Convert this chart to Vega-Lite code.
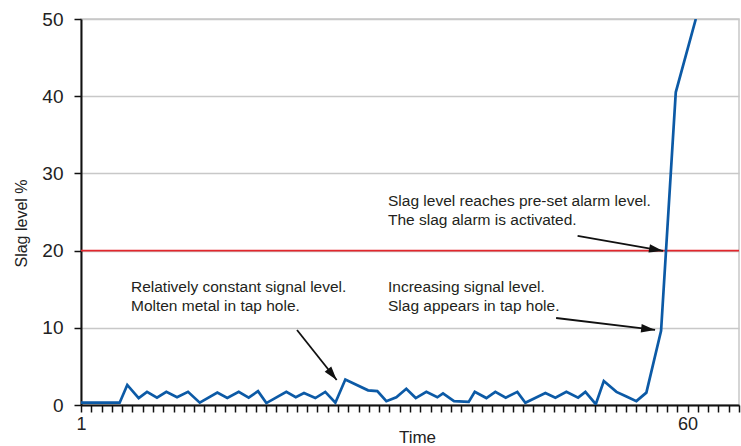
{
  "$schema": "https://vega.github.io/schema/vega-lite/v6.json",
  "width": 658,
  "height": 386,
  "autosize": "none",
  "padding": {"left": 81, "top": 19, "right": 2, "bottom": 41},
  "background": "white",
  "config": {
    "view": {"stroke": "#c8c8c8", "strokeWidth": 1.5},
    "font": "Liberation Sans"
  },
  "datasets": {
    "series": [
      {"t": 1.00, "v": 0.3}, {"t": 4.76, "v": 0.3}, {"t": 5.50, "v": 2.6}, {"t": 6.61, "v": 0.9},
      {"t": 7.42, "v": 1.7}, {"t": 8.39, "v": 0.95}, {"t": 9.30, "v": 1.7}, {"t": 10.34, "v": 1.0},
      {"t": 11.41, "v": 1.7}, {"t": 12.55, "v": 0.3}, {"t": 14.26, "v": 1.6}, {"t": 15.23, "v": 0.9},
      {"t": 16.34, "v": 1.7}, {"t": 17.31, "v": 0.95}, {"t": 18.22, "v": 1.8}, {"t": 19.03, "v": 0.25},
      {"t": 20.97, "v": 1.7}, {"t": 21.89, "v": 1.0}, {"t": 22.69, "v": 1.55}, {"t": 23.79, "v": 0.9},
      {"t": 24.76, "v": 1.7}, {"t": 25.74, "v": 0.3}, {"t": 26.71, "v": 3.3}, {"t": 28.92, "v": 1.9},
      {"t": 29.82, "v": 1.8}, {"t": 30.70, "v": 0.5}, {"t": 31.67, "v": 1.0}, {"t": 32.64, "v": 2.1},
      {"t": 33.56, "v": 0.9}, {"t": 34.59, "v": 1.7}, {"t": 35.66, "v": 1.0}, {"t": 36.21, "v": 1.5},
      {"t": 37.28, "v": 0.5}, {"t": 38.71, "v": 0.4}, {"t": 39.30, "v": 1.7}, {"t": 40.43, "v": 0.9},
      {"t": 41.30, "v": 1.7}, {"t": 42.31, "v": 0.95}, {"t": 43.44, "v": 1.7}, {"t": 44.22, "v": 0.3},
      {"t": 46.17, "v": 1.55}, {"t": 47.14, "v": 0.95}, {"t": 48.21, "v": 1.7}, {"t": 49.35, "v": 0.95},
      {"t": 50.06, "v": 1.7}, {"t": 51.07, "v": 0.1}, {"t": 51.85, "v": 3.1}, {"t": 53.08, "v": 1.7},
      {"t": 54.05, "v": 1.1}, {"t": 55.02, "v": 0.5}, {"t": 55.99, "v": 1.6}, {"t": 57.42, "v": 9.6},
      {"t": 58.85, "v": 40.5}, {"t": 60.80, "v": 50}
    ],
    "notes": [
      {"t": 5.86, "v": 15.28, "text": "Relatively constant signal level."},
      {"t": 5.86, "v": 12.82, "text": "Molten metal in tap hole."},
      {"t": 30.86, "v": 15.28, "text": "Increasing signal level."},
      {"t": 30.86, "v": 12.82, "text": "Slag appears in tap hole."},
      {"t": 30.86, "v": 26.42, "text": "Slag level reaches pre-set alarm level."},
      {"t": 30.86, "v": 23.96, "text": "The slag alarm is activated."}
    ],
    "alarm": [{"t": 1, "t2": 65, "v": 20}],
    "arrows": [
      {"id": 1, "t": 22.01, "v": 9.72, "t2": 25.87, "v2": 3.24},
      {"id": 2, "t": 47.21, "v": 11.27, "t2": 56.84, "v2": 9.72},
      {"id": 3, "t": 49.3, "v": 21.9, "t2": 57.61, "v2": 19.95}
    ],
    "heads": [
      {"id": 1, "t": 25.87, "v": 3.24},
      {"id": 2, "t": 56.84, "v": 9.72},
      {"id": 3, "t": 57.61, "v": 19.95}
    ]
  },
  "encoding": {
    "x": {
      "field": "t", "type": "quantitative", "title": "Time",
      "scale": {"domain": [1, 65], "nice": false, "zero": false},
      "axis": {
        "values": [1,2,3,4,5,6,7,8,9,10,11,12,13,14,15,16,17,18,19,20,21,22,23,24,25,26,27,28,29,30,31,32,33,34,35,36,37,38,39,40,41,42,43,44,45,46,47,48,49,50,51,52,53,54,55,56,57,58,59,60,61,62,63,64,65],
        "labelExpr": "datum.value == 1 || datum.value == 60 ? datum.label : ''",
        "labelOverlap": false,
        "labelFlush": false,
        "grid": false,
        "tickSize": 7,
        "tickColor": "#111",
        "tickWidth": 1.5,
        "domainColor": "#111",
        "domainWidth": 2,
        "labelFontSize": 18,
        "labelColor": "#222",
        "labelPadding": 3,
        "titleFontSize": 17,
        "titleFontWeight": "normal",
        "titleColor": "#222",
        "titlePadding": -4,
        "titleX": 336
      }
    },
    "y": {
      "field": "v", "type": "quantitative", "title": "Slag level %",
      "scale": {"domain": [0, 50], "nice": false},
      "axis": {
        "values": [0, 10, 20, 30, 40, 50],
        "grid": true,
        "gridColor": "#c8c8c8",
        "gridWidth": 1.5,
        "tickSize": 7,
        "tickColor": "#111",
        "tickWidth": 1.5,
        "domainColor": "#111",
        "domainWidth": 2,
        "labelFontSize": 19,
        "labelColor": "#222",
        "labelPadding": 11,
        "titleFontSize": 16,
        "titleFontWeight": "normal",
        "titleColor": "#222",
        "titlePadding": 12,
        "titleY": 204
      }
    }
  },
  "layer": [
    {
      "data": {"name": "alarm"},
      "mark": {"type": "rule", "color": "#e2262c", "strokeWidth": 1.6},
      "encoding": {"x2": {"field": "t2"}}
    },
    {
      "data": {"name": "series"},
      "mark": {"type": "line", "color": "#0c5aa6", "strokeWidth": 2.7, "clip": true},
      "encoding": {}
    },
    {
      "data": {"name": "notes"},
      "mark": {"type": "text", "align": "left", "baseline": "middle", "fontSize": 15.5, "color": "#231f20", "font": "Liberation Sans"},
      "encoding": {"text": {"field": "text", "type": "nominal"}}
    },
    {
      "data": {"name": "arrows"},
      "mark": {"type": "rule", "color": "#111", "strokeWidth": 1.8},
      "encoding": {"x2": {"field": "t2"}, "y2": {"field": "v2"}}
    },
    {
      "data": {"name": "heads"},
      "transform": [{"filter": "datum.id == 1"}],
      "mark": {"type": "point", "shape": "M0,0L-2,-0.6L-2,0.6Z", "angle": 51.5, "filled": true, "size": 196, "color": "#111", "opacity": 1, "strokeWidth": 0},
      "encoding": {}
    },
    {
      "data": {"name": "heads"},
      "transform": [{"filter": "datum.id == 2"}],
      "mark": {"type": "point", "shape": "M0,0L-2,-0.6L-2,0.6Z", "angle": 6.9, "filled": true, "size": 196, "color": "#111", "opacity": 1, "strokeWidth": 0},
      "encoding": {}
    },
    {
      "data": {"name": "heads"},
      "transform": [{"filter": "datum.id == 3"}],
      "mark": {"type": "point", "shape": "M0,0L-2,-0.6L-2,0.6Z", "angle": 10.3, "filled": true, "size": 196, "color": "#111", "opacity": 1, "strokeWidth": 0},
      "encoding": {}
    }
  ]
}
